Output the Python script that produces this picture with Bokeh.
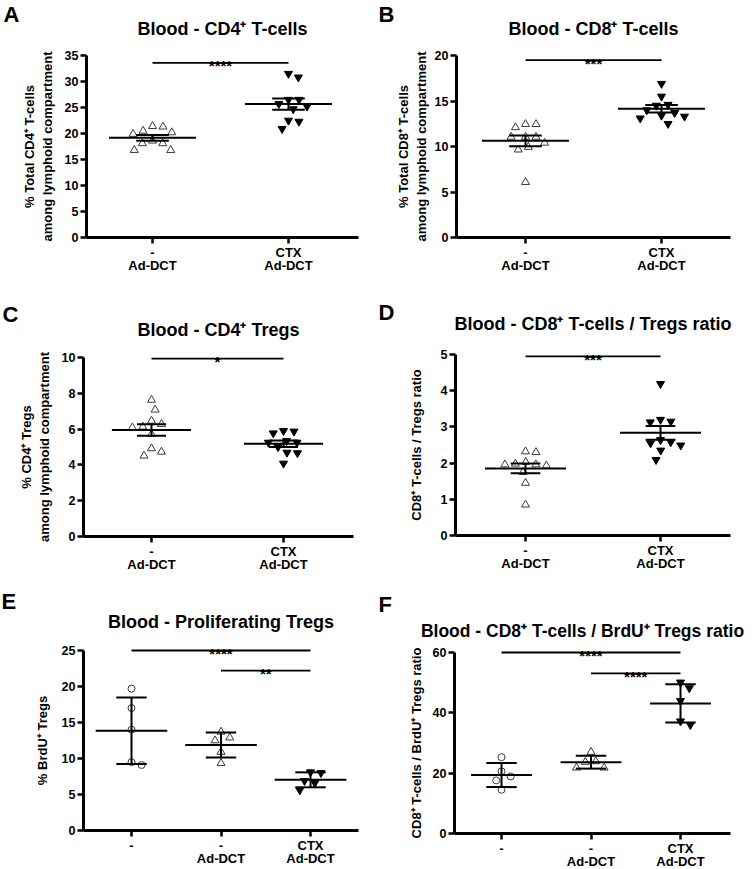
import numpy as np
from bokeh.plotting import figure
from bokeh.models import FixedTicker, Label, Range1d
from bokeh.layouts import column, row
from bokeh.embed import file_html
from bokeh.resources import INLINE
from bokeh.core.properties import value

FONT = "Liberation Sans"

# ---------------- data ----------------
cats2 = ["-\nAd-DCT", "CTX\nAd-DCT"]
cats3 = ["-", "-\nAd-DCT", "CTX\nAd-DCT"]

a_ctrl = [21.3, 20.2, 18.6, 18.1, 19.9, 16.8, 20.5, 16.8, 21.4, 18.1]
a_ctx = [30.8, 31.5, 26.5, 25.2, 24.7, 25.7, 26.5, 22.5, 22.3, 20.9]
b_ctrl = [12.45, 12.45, 12.1, 11.05, 11.05, 11.05, 9.94, 9.65, 10.4, 6.08]
b_ctx = [16.9, 15.5, 14.5, 14.6, 14.0, 13.7, 13.4, 13.3, 13.1, 12.5]
c_ctrl = [7.63, 7.08, 6.28, 6.46, 6.13, 6.09, 5.72, 4.92, 4.51, 4.73]
c_ctx = [5.87, 5.77, 5.9, 5.34, 5.25, 5.25, 5.0, 4.66, 4.69, 4.08]
d_ctrl = [2.32, 2.30, 2.03, 1.96, 1.98, 1.93, 1.96, 1.75, 1.45, 0.85]
d_ctx = [4.19, 3.2, 3.13, 3.15, 2.58, 2.49, 2.55, 2.64, 2.35, 2.09]
e_none = [19.7, 17.0, 14.0, 9.1, 9.5]
e_ad = [12.9, 12.5, 13.7, 10.9, 9.35]
e_ctx = [8.1, 8.0, 6.9, 6.6, 5.6]
f_none = [25.3, 20.6, 17.6, 18.9, 14.5]
f_ad = [27.0, 23.7, 23.9, 21.8, 21.8]
f_ctx = [50.1, 48.2, 44.0, 36.0, 37.2]

ticks_a = [0, 5, 10, 15, 20, 25, 30, 35]
ticks_b = [0, 5, 10, 15, 20]
ticks_c = [0, 2, 4, 6, 8, 10]
ticks_d = [0, 1, 2, 3, 4, 5]
ticks_e = [0, 5, 10, 15, 20, 25]
ticks_f = [0, 20, 40, 60]

# significance bars: (from group, to group, height, stars)
sig_a = [(0, 1, 33.6, "****")]
sig_b = [(0, 1, 19.5, "***")]
sig_c = [(0, 1, 9.94, "*")]
sig_d = [(0, 1, 4.95, "***")]
sig_e = [(0, 2, 25.0, "****"), (1, 2, 22.2, "**")]
sig_f = [(0, 2, 60.0, "****"), (1, 2, 53.1, "****")]

titles = ["Blood - CD4\u207a T-cells", "Blood - CD8\u207a T-cells", "Blood - CD4\u207a Tregs",
          "Blood - CD8\u207a T-cells / Tregs ratio", "Blood - Proliferating Tregs",
          "Blood - CD8\u207a T-cells / BrdU\u207a Tregs ratio"]
ylabels = ["% Total CD4\u207a T-cells\namong lymphoid compartment",
           "% Total CD8\u207a T-cells\namong lymphoid compartment",
           "% CD4\u207a Tregs\namong lymphoid compartment",
           "CD8\u207a T-cells / Tregs ratio",
           "% BrdU\u207a Tregs",
           "CD8\u207a T-cells / BrdU\u207a Tregs ratio"]
letters = ["A", "B", "C", "D", "E", "F"]

# ---------------- styles ----------------
MARK = {
    "open_tri": dict(marker="triangle", fill_color="white", line_color="#3a3a3a", size=8, line_width=1),
    "inv_tri": dict(marker="inverted_triangle", fill_color="black", line_color="black", size=8, line_width=1),
    "open_circ": dict(marker="circle", fill_color="white", line_color="#3a3a3a", size=7, line_width=1),
}


def swarm_offsets(vals, ppu_y, d=10.5):
    ys = np.asarray(vals, float) * ppu_y
    order = np.argsort(-ys, kind="stable")
    px_list, py_list = [], []
    xs = np.zeros(len(ys))
    for i in order:
        y = ys[i]
        cands = [0.0]
        for qx, qy in zip(px_list, py_list):
            dd = abs(qy - y)
            if dd < d:
                w = np.sqrt(d * d - dd * dd)
                cands += [qx - w, qx + w]
        best = 0.0
        for c in sorted(cands, key=lambda c: (round(abs(c), 6), -c)):
            if all((c - qx) ** 2 + (y - qy) ** 2 >= d * d - 1e-6 for qx, qy in zip(px_list, py_list)):
                best = c
                break
        xs[i] = best
        px_list.append(best)
        py_list.append(y)
    return xs


def make_panel(idx, groups, kinds, cats, yticks, sig, err, geo):
    (W, H, axis_px, base_px, top_px, right_px, c0_px, cN_px,
     title_px, title_py, title_size, letter_px, letter_py, mean_hw, cap_hw, lab_standoff) = geo
    n = len(groups)
    ymax = yticks[-1]
    ppu_x = (cN_px - c0_px) / (n - 1)
    ppu_y = (base_px - top_px) / ymax

    def dx(px):
        return (px - c0_px) / ppu_x

    def dy(py):
        return (base_px - py) / ppu_y

    p = figure(width=W, height=H, x_range=Range1d(dx(0), dx(W)), y_range=Range1d(dy(H), dy(0)),
               output_backend="svg", toolbar_location=None,
               min_border_left=0, min_border_right=0, min_border_top=0, min_border_bottom=0)
    p.min_border = 0
    p.outline_line_color = None
    p.grid.visible = False
    p.background_fill_color = "white"
    p.border_fill_color = "white"

    ya = p.yaxis[0]
    ya.fixed_location = dx(axis_px)
    ya.ticker = FixedTicker(ticks=yticks)
    ya.bounds = (0, ymax)
    ya.axis_line_width = 3
    ya.major_tick_line_width = 2.5
    ya.major_tick_out = 6
    ya.major_tick_in = 0
    ya.minor_tick_line_color = None
    ya.major_label_standoff = 2
    ya.major_label_text_font = FONT
    ya.major_label_text_font_style = "bold"
    ya.major_label_text_font_size = "12.5px"
    ya.major_label_text_color = "black"
    ya.axis_label = ylabels[idx]
    ya.axis_label_text_font = FONT
    ya.axis_label_text_font_style = "bold"
    ya.axis_label_text_font_size = "13px"
    ya.axis_label_standoff = lab_standoff
    ya.axis_label_text_color = "black"

    xa = p.xaxis[0]
    xa.fixed_location = 0
    xa.ticker = FixedTicker(ticks=list(range(n)))
    xa.bounds = (dx(axis_px), dx(right_px))
    xa.major_label_overrides = {i: c for i, c in enumerate(cats)}
    xa.axis_line_width = 3
    xa.major_tick_line_width = 2.5
    xa.major_tick_out = 6
    xa.major_tick_in = 0
    xa.minor_tick_line_color = None
    xa.major_label_standoff = 1
    xa.major_label_text_font = FONT
    xa.major_label_text_font_style = "bold"
    xa.major_label_text_font_size = "13px"
    xa.major_label_text_line_height = 0.9
    xa.major_label_text_color = "black"

    # points
    for gi, (vals, kind) in enumerate(zip(groups, kinds)):
        offs = swarm_offsets(vals, ppu_y) / ppu_x
        p.scatter(x=gi + offs, y=vals, **MARK[kind])

    # mean and error lines
    for gi, vals in enumerate(groups):
        v = np.asarray(vals, float)
        m = v.mean()
        sd = v.std(ddof=1)
        e = sd / np.sqrt(len(v)) if err == "sem" else sd
        p.segment(x0=[gi - mean_hw, gi - cap_hw, gi - cap_hw, gi], y0=[m, m + e, m - e, m - e],
                  x1=[gi + mean_hw, gi + cap_hw, gi + cap_hw, gi], y1=[m, m + e, m - e, m + e],
                  line_color="black", line_width=2)

    # significance bars
    for g0, g1, h, s in sig:
        p.segment(x0=[g0], y0=[h], x1=[g1], y1=[h], line_color="black", line_width=1.8)
        p.text(x=[(g0 + g1) / 2], y=[h], text=[s], text_align="center", text_baseline="alphabetic",
               y_offset=3, text_font=value(FONT), text_font_style="bold", text_font_size="15px",
               text_color="black")

    tx = (axis_px + right_px) / 2 if title_px is None else title_px
    p.add_layout(Label(x=dx(tx), y=dy(title_py), text=titles[idx],
                       text_align="center", text_baseline="middle", text_font=FONT,
                       text_font_style="bold", text_font_size=title_size, text_color="black"))
    p.add_layout(Label(x=dx(letter_px), y=dy(letter_py), text=letters[idx], text_align="left",
                       text_baseline="top", text_font=FONT, text_font_style="bold",
                       text_font_size="22px", text_color="black"))
    return p


# geometry (pixels inside each figure):
# W, H, y-axis x, baseline y, top tick y, x-axis end, first cat x, last cat x,
# title x (None = centred), title y, title size, letter x, letter y,
# mean half width, cap half width, y-label standoff
geo_a = (378, 290, 86, 237, 55, 358, 152, 288, None, 28, "18px", 3, 1, 0.32, 0.12, 7)
geo_b = (378, 290, 78, 237, 55, 352, 147, 283, None, 28, "18px", 0, 1, 0.32, 0.12, 3)
geo_c = (378, 290, 83, 246, 67, 353, 151, 283, None, 39, "18px", 2, 11, 0.30, 0.11, 7)
geo_d = (378, 290, 77, 245, 64, 352, 147, 282, None, 33, "18px", 0, 9, 0.30, 0.11, 14)
geo_e = (378, 289, 83, 250, 70, 358, 131, 310, None, 41, "18px", 1, 8, 0.40, 0.17, 9)
geo_f = (378, 289, 76, 253, 72, 352, 123, 302, 204, 50, "17.5px", 0, 11, 0.34, 0.17, 6)

pA = make_panel(0, [a_ctrl, a_ctx], ["open_tri", "inv_tri"], cats2, ticks_a, sig_a, "sem", geo_a)
pB = make_panel(1, [b_ctrl, b_ctx], ["open_tri", "inv_tri"], cats2, ticks_b, sig_b, "sem", geo_b)
pC = make_panel(2, [c_ctrl, c_ctx], ["open_tri", "inv_tri"], cats2, ticks_c, sig_c, "sem", geo_c)
pD = make_panel(3, [d_ctrl, d_ctx], ["open_tri", "inv_tri"], cats2, ticks_d, sig_d, "sem", geo_d)
pE = make_panel(4, [e_none, e_ad, e_ctx], ["open_circ", "open_tri", "inv_tri"], cats3, ticks_e, sig_e, "sd", geo_e)
pF = make_panel(5, [f_none, f_ad, f_ctx], ["open_circ", "open_tri", "inv_tri"], cats3, ticks_f, sig_f, "sd", geo_f)

layout = column(row(pA, pB, spacing=0), row(pC, pD, spacing=0), row(pE, pF, spacing=0), spacing=0)

with open("out.html", "w") as f:
    f.write(file_html(layout, INLINE))
